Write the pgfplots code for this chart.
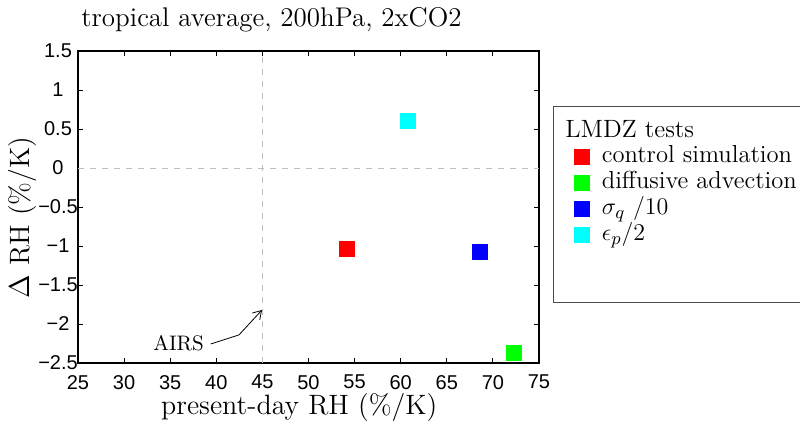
\documentclass[border=0pt]{standalone}
\usepackage{fontspec}
\usepackage{pgfplots}
\pgfplotsset{compat=1.18}
\usetikzlibrary{arrows.meta}
\newfontfamily\tickfont{Liberation Sans}
\definecolor{mred}{rgb}{1,0,0}
\definecolor{mgreen}{rgb}{0,1,0}
\definecolor{mblue}{rgb}{0,0,1}
\definecolor{mcyan}{rgb}{0,1,1}
\begin{document}
\begin{tikzpicture}
\begin{axis}[
  at={(0,0)}, anchor=south west,
  scale only axis, width=230.5pt, height=156pt,
  xmin=25, xmax=75, ymin=-2.5, ymax=1.5,
  xtick={25,30,...,75}, ytick={-2.5,-2,...,1.5},
  xticklabels={25,30,35,40,45,50,55,60,65,70,75},
  yticklabels={−2.5,−2,−1.5,−1,−0.5,0,0.5,1,1.5},
  ticklabel style={font=\tickfont\fontsize{10}{12}\selectfont},
  yticklabel style={anchor=center, xshift=-10pt},
  xticklabel style={yshift=-2.5pt},
  major tick length=2.5pt,
  tick style={black, line width=0.4pt},
  axis line style={line width=0.6pt},
  xlabel={present-day RH (\%/K)},
  xlabel style={at={(axis description cs:0.48,-0.144)}, anchor=center, font=\fontsize{14}{16}\selectfont},
  ylabel={$\Delta$ RH (\%/K)},
  ylabel style={at={(axis description cs:-0.121,0.466)}, anchor=center, font=\fontsize{14}{16}\selectfont},
  legend style={at={(axis description cs:1.064,0.71)}, anchor=north west, draw=none, fill=none,
    font=\fontsize{12.3}{14}\selectfont, nodes={inner sep=0pt, text height=8.5pt, text depth=3pt},
    row sep=1.5pt, column sep=6pt},
  legend cell align=left,
]
\addplot[gray!50, dash pattern=on 3pt off 3pt, forget plot] coordinates {(45,-2.5) (45,1.5)};
\addplot[gray!50, dash pattern=on 3pt off 3pt, forget plot] coordinates {(25,0) (75,0)};
\addplot[only marks, mark=square*, mark size=3.75pt, color=mred] coordinates {(54.2,-1.04)};
\addlegendentry{control simulation}
\addplot[only marks, mark=square*, mark size=3.75pt, color=mgreen] coordinates {(72.3,-2.37)};
\addlegendentry{diffusive advection}
\addplot[only marks, mark=square*, mark size=3.75pt, color=mblue] coordinates {(68.6,-1.08)};
\addlegendentry{$\sigma_q\ /10$}
\addplot[only marks, mark=square*, mark size=3.75pt, color=mcyan] coordinates {(60.8,0.60)};
\addlegendentry{$\epsilon_p/2$}
\node[font=\fontsize{10.5}{12}\selectfont] at (axis cs:35.9,-2.24) {AIRS};
\draw[-{Straight Barb[length=4pt,width=5pt]}, line width=0.4pt] (axis cs:39.4,-2.256) -- (axis cs:42.46,-2.14) -- (axis cs:44.96,-1.82);
\end{axis}
\node[anchor=base, inner sep=0pt, font=\fontsize{13.5}{16}\selectfont] at (96.75pt,168pt) {tropical average, 200hPa, 2xCO2};
\draw[line width=0.5pt, black!70] (238pt,30.5pt) rectangle (362pt,128pt);
\node[anchor=base west, inner sep=0pt, font=\fontsize{12.5}{14}\selectfont] at (243.5pt,113pt) {LMDZ tests};
\pgfresetboundingbox
\path[use as bounding box] (-39pt,-30.5pt) rectangle (361pt,181.5pt);
\end{tikzpicture}
\end{document}
